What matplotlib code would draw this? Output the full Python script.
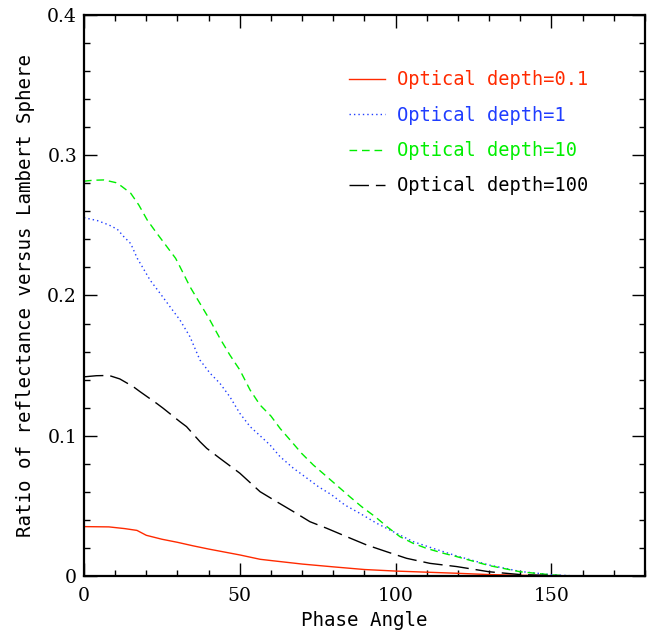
"""Reflectance ratio versus Lambert sphere, for several optical depths."""

from matplotlib import pyplot as plt

# Phase angle sample points (deg) and read-off ratios per optical depth
ANGLE_01 = [0, 8, 13, 17, 20, 25, 30, 35, 40, 50, 56.5, 60, 70, 80, 90, 100, 110, 120, 130, 140, 150,
            160, 170, 180]
TAU_01 = [0.0352, 0.0350, 0.0338, 0.0325, 0.0290, 0.0262, 0.0240, 0.0215, 0.0192, 0.0150, 0.0119, 0.0110,
          0.0085, 0.0065, 0.0046, 0.0035, 0.0027, 0.0019, 0.0010, 0.0005, 0.0002, 0.0, 0.0, 0.0]

ANGLE_1 = [0, 4.3, 8, 10.7, 12.8, 15, 17.1, 18.7, 21.2, 24.4, 27.6, 30.8, 34, 37.2, 40.4, 43.6, 46.8, 50,
           53.3, 56.5, 59.7, 62.9, 67.2, 70.9, 75.2, 79.5, 83.7, 88.5, 93.9, 99.2, 105.6, 112, 119.6, 130,
           140, 150, 155, 160, 170, 180]
TAU_1 = [0.2555, 0.2534, 0.2503, 0.2472, 0.2419, 0.2370, 0.2265, 0.2205, 0.2110, 0.2016, 0.1920, 0.1825,
         0.1706, 0.1540, 0.1447, 0.1374, 0.1278, 0.1160, 0.1065, 0.1000, 0.0934, 0.0851, 0.0768, 0.0708,
         0.0637, 0.0578, 0.0506, 0.0447, 0.0376, 0.0316, 0.0245, 0.0197, 0.0143, 0.0078, 0.0032, 0.0009,
         0.0003, 0.0, 0.0, 0.0]

ANGLE_10 = [0, 3, 6.4, 10.2, 12, 15, 17.6, 20.3, 23, 26.2, 29.4, 30.8, 34, 37.2, 40.4, 43.6, 46.8, 50, 53.3,
            56.5, 60, 63, 66.6, 69.8, 73.6, 77.3, 81.6, 85.3, 89.1, 93.4, 97.6, 101.4, 105.6, 109.9, 115.3,
            119.6, 130, 140, 150, 155, 160, 170, 180]
TAU_10 = [0.2815, 0.2822, 0.2824, 0.2805, 0.2780, 0.2729, 0.2645, 0.2538, 0.2455, 0.2360, 0.2265, 0.2205,
          0.2063, 0.1944, 0.1825, 0.1695, 0.1576, 0.1469, 0.1326, 0.1219, 0.1140, 0.1050, 0.0958, 0.0875,
          0.0791, 0.0720, 0.0637, 0.0565, 0.0494, 0.0423, 0.0345, 0.0280, 0.0233, 0.0197, 0.0162, 0.0138,
          0.0074, 0.0030, 0.0008, 0.0002, 0.0, 0.0, 0.0]

ANGLE_100 = [0, 4, 8, 11.5, 15.8, 18, 23.3, 25.4, 30.8, 32.9, 37.2, 39.4, 43.6, 50, 56.5, 61.8, 67.2, 72.5,
             77.9, 84.3, 90.7, 97.1, 103.5, 111, 119.6, 130, 140, 150, 160, 170, 180]
TAU_100 = [0.1420, 0.1428, 0.1430, 0.1405, 0.1350, 0.1314, 0.1231, 0.1196, 0.1100, 0.1065, 0.0958, 0.0910,
           0.0839, 0.0733, 0.0601, 0.0530, 0.0459, 0.0387, 0.0340, 0.0280, 0.0221, 0.0173, 0.0126, 0.0090,
           0.0067, 0.0030, 0.0010, 0.0003, 0.0, 0.0, 0.0]

LABELS = ["Optical depth=0.1", "Optical depth=1", "Optical depth=10", "Optical depth=100"]
COLORS = ["#ff2a00", "#1f3dff", "#00ee00", "black"]
DASHES = [None, (1, 2.2), (5.5, 3.5), (14, 5)]

LABEL_FONT = "DejaVu Sans Mono"
TICK_FONT = "DejaVu Serif"

fig = plt.figure(figsize=(6.49, 6.31), dpi=100)
ax = fig.add_axes([0.1294, 0.0872, 0.8644, 0.889])

series = [(ANGLE_01, TAU_01), (ANGLE_1, TAU_1), (ANGLE_10, TAU_10), (ANGLE_100, TAU_100)]
for (xs, ys), label, color, dash in zip(series, LABELS, COLORS, DASHES):
    line, = ax.plot(xs, ys, color=color, lw=1.0, label=label)
    if dash is not None:
        line.set_dashes(dash)

ax.set_xlim(0, 180)
ax.set_ylim(0, 0.4)
ax.set_xticks([0, 50, 100, 150])
ax.set_xticks(range(0, 181, 10), minor=True)
ax.set_yticks([0, 0.1, 0.2, 0.3, 0.4])
ax.set_yticklabels(["0", "0.1", "0.2", "0.3", "0.4"])
ax.set_yticks([i * 0.02 for i in range(21)], minor=True)
ax.tick_params(which="both", direction="in", top=True, right=True, width=1.0, labelsize=13.5)
ax.tick_params(axis="x", pad=8)
ax.tick_params(axis="y", pad=5)
ax.tick_params(which="major", length=9.5)
ax.tick_params(which="minor", length=4.5)
for lab in ax.get_xticklabels() + ax.get_yticklabels():
    lab.set_family(TICK_FONT)
for sp in ax.spines.values():
    sp.set_linewidth(1.6)

ax.set_xlabel("Phase Angle", family=LABEL_FONT, fontsize=13.8, labelpad=4)
ax.set_ylabel("Ratio of reflectance versus Lambert Sphere", family=LABEL_FONT, fontsize=13.8, labelpad=9)

leg = ax.legend(loc="upper left", bbox_to_anchor=(0.472, 0.9014), frameon=False,
                prop={"family": LABEL_FONT, "size": 13.4}, handlelength=1.95,
                handletextpad=0.65, labelspacing=0.88, borderpad=0, borderaxespad=0)
for text, color in zip(leg.get_texts(), COLORS):
    text.set_color(color)

fig.savefig("out.png", dpi=100)
